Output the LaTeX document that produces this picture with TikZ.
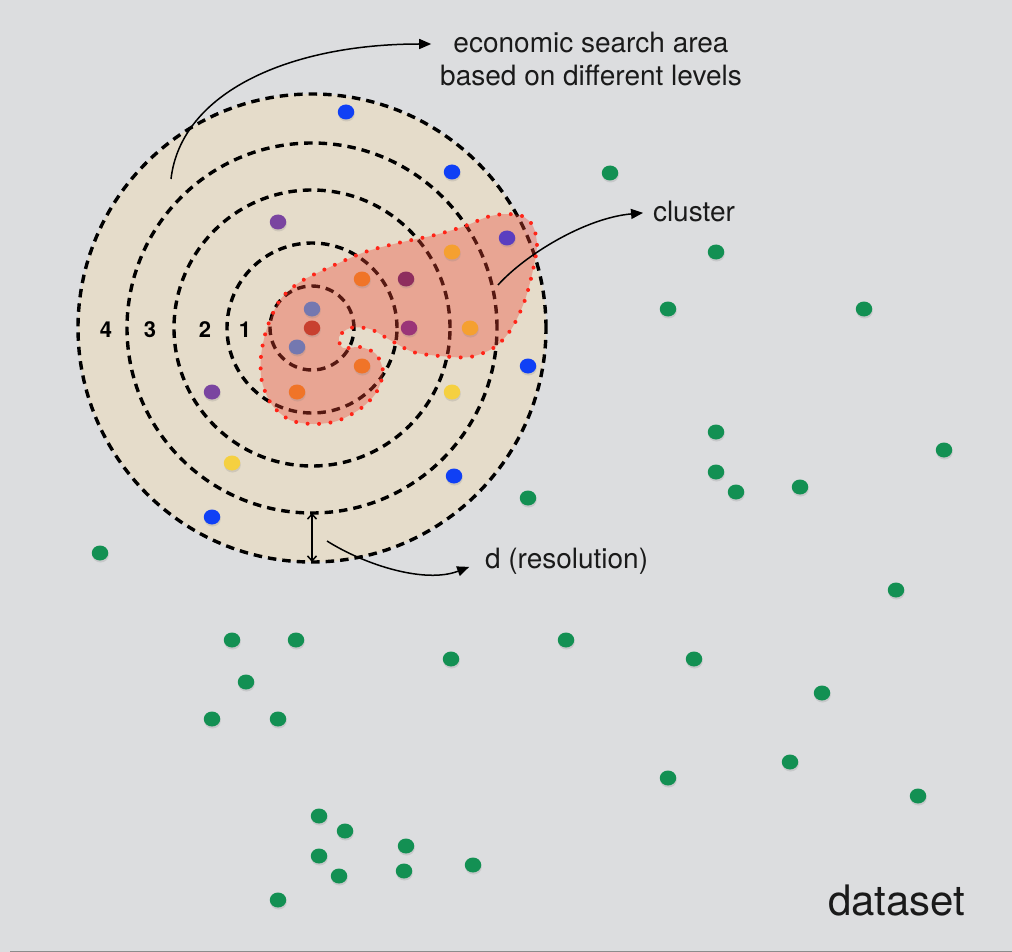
\documentclass[tikz,border=0pt]{standalone}
\usepackage{fontspec}
\setmainfont{TeX Gyre Heros}
\usepackage{xcolor}
\usepackage{tikz}
\usetikzlibrary{arrows.meta,shapes.geometric,shadows}

\definecolor{bgcol}{HTML}{DCDDDF}
\definecolor{sand}{HTML}{E5DCCA}
\definecolor{clred}{HTML}{F04632}
\definecolor{dotline}{HTML}{FF2418}
\definecolor{cblue}{HTML}{1040F5}
\definecolor{cpurple}{HTML}{7A45A0}
\definecolor{cviolet}{HTML}{5A3EC0}
\definecolor{clorange}{HTML}{F5A030}
\definecolor{corange}{HTML}{F07428}
\definecolor{cmaroon}{HTML}{8E2E5E}
\definecolor{cmagenta}{HTML}{9A3478}
\definecolor{cslate}{HTML}{7478B0}
\definecolor{cred}{HTML}{C8402F}
\definecolor{cyellow}{HTML}{F5D040}
\definecolor{cgreen}{HTML}{139053}
\definecolor{ink}{HTML}{1A1A1A}

\begin{document}
\begin{tikzpicture}[x=1pt,y=-1pt,
  ring/.style={circle, draw=black, line width=3.4pt, dash pattern=on 8.5pt off 6pt, inner sep=0pt, outer sep=0pt},
  datapt/.style={ellipse, minimum width=16.5pt, minimum height=15pt, inner sep=0pt,
    drop shadow={shadow xshift=0.5pt, shadow yshift=-2pt, opacity=0.22}},
  note/.style={font=\fontsize{28}{33}\selectfont, text=ink, inner sep=0pt, outer sep=0pt},
  levelnum/.style={font=\fontsize{22}{24}\selectfont\bfseries, inner sep=0pt},
  curved/.style={line width=1.5pt, -{Triangle[length=12pt,width=10pt]}}]
\fill[bgcol] (0,0) rectangle (1012,952);
\fill[black!45] (10,950.5) rectangle (1012,952);
\useasboundingbox (0,0) rectangle (1012,952);

% search levels
\node[ring, fill=sand, minimum size=468pt] (ring4) at (312,328) {};
\node[ring, minimum size=370pt] (ring3) at (312,328) {};
\node[ring, minimum size=276pt] (ring2) at (312,328) {};
\node[ring, minimum size=170pt] (ring1) at (312,328) {};
\node[ring, minimum size=84pt] (core) at (312,328) {};

% cluster
\path[fill=clred, fill opacity=0.36, draw=dotline, line width=4pt, line cap=round,
  dash pattern=on 0pt off 11.5pt]
  plot[smooth cycle] coordinates {(505,214) (522,216) (533,226) (537,245) (533,270)
  (525,300) (512,328) (495,347) (470,357) (440,356) (413,352) (390,340) (370,329)
  (350,328) (339,337) (343,348) (360,347) (376,354) (383,372) (376,393) (360,409)
  (337,421) (313,424) (290,420) (272,405) (262,382) (261,356) (267,328) (280,300)
  (300,282) (330,267) (365,252) (398,243) (435,235) (465,226) (487,217)};

\node[levelnum] (l4) at (106,330) {4};
\node[levelnum] (l3) at (150,330) {3};
\node[levelnum] (l2) at (205,330) {2};
\node[levelnum] (l1) at (245,330) {1};

% points in the search area
\node[datapt, fill=cblue] (b1) at (346,112) {};
\node[datapt, fill=cblue] (b2) at (452,172) {};
\node[datapt, fill=cblue] (b3) at (528,366) {};
\node[datapt, fill=cblue] (b4) at (454,476) {};
\node[datapt, fill=cblue] (b5) at (212,517) {};
\node[datapt, fill=cpurple] (p1) at (278,222) {};
\node[datapt, fill=cpurple] (p2) at (212,392) {};
\node[datapt, fill=cviolet] (v1) at (507,238) {};
\node[datapt, fill=clorange] (lo1) at (452,252) {};
\node[datapt, fill=clorange] (lo2) at (470,328) {};
\node[datapt, fill=corange] (o1) at (362,279) {};
\node[datapt, fill=corange] (o2) at (362,366) {};
\node[datapt, fill=corange] (o3) at (297,392) {};
\node[datapt, fill=cmaroon] (m1) at (406,279) {};
\node[datapt, fill=cmagenta] (m2) at (409,328) {};
\node[datapt, fill=cslate] (s1) at (312,309) {};
\node[datapt, fill=cred] (r1) at (312,328) {};
\node[datapt, fill=cslate] (s2) at (297,347) {};
\node[datapt, fill=cyellow] (y1) at (452,392) {};
\node[datapt, fill=cyellow] (y2) at (232,463) {};

% rest of the dataset
\node[datapt, fill=cgreen] (g1) at (610,173) {};
\node[datapt, fill=cgreen] (g2) at (716,252) {};
\node[datapt, fill=cgreen] (g3) at (668,309) {};
\node[datapt, fill=cgreen] (g4) at (864,309) {};
\node[datapt, fill=cgreen] (g5) at (716,432) {};
\node[datapt, fill=cgreen] (g6) at (944,450) {};
\node[datapt, fill=cgreen] (g7) at (716,472) {};
\node[datapt, fill=cgreen] (g8) at (736,492) {};
\node[datapt, fill=cgreen] (g9) at (800,487) {};
\node[datapt, fill=cgreen] (g10) at (528,498) {};
\node[datapt, fill=cgreen] (g11) at (100,553) {};
\node[datapt, fill=cgreen] (g12) at (896,590) {};
\node[datapt, fill=cgreen] (g13) at (232,640) {};
\node[datapt, fill=cgreen] (g14) at (296,640) {};
\node[datapt, fill=cgreen] (g15) at (566,640) {};
\node[datapt, fill=cgreen] (g16) at (451,659) {};
\node[datapt, fill=cgreen] (g17) at (694,659) {};
\node[datapt, fill=cgreen] (g18) at (246,682) {};
\node[datapt, fill=cgreen] (g19) at (822,693) {};
\node[datapt, fill=cgreen] (g20) at (212,719) {};
\node[datapt, fill=cgreen] (g21) at (278,719) {};
\node[datapt, fill=cgreen] (g22) at (790,762) {};
\node[datapt, fill=cgreen] (g23) at (668,778) {};
\node[datapt, fill=cgreen] (g24) at (918,796) {};
\node[datapt, fill=cgreen] (g25) at (319,816) {};
\node[datapt, fill=cgreen] (g26) at (345,831) {};
\node[datapt, fill=cgreen] (g27) at (406,846) {};
\node[datapt, fill=cgreen] (g28) at (319,856) {};
\node[datapt, fill=cgreen] (g29) at (473,865) {};
\node[datapt, fill=cgreen] (g30) at (404,871) {};
\node[datapt, fill=cgreen] (g31) at (339,876) {};
\node[datapt, fill=cgreen] (g32) at (278,900) {};

% labels and arrows
\node[note, align=center] (econ) at (591,59) {economic search area\\based on different levels};
\node[note, anchor=base west] (clust) at (653,222) {cluster};
\node[note, anchor=base west] (reso) at (485,568) {d (resolution)};
\node[note, font=\fontsize{42}{48}\selectfont, anchor=base west] (dataset) at (828,915) {dataset};

\coordinate (econ-from) at (171,179);
\coordinate (econ-tip) at ([xshift=-9pt,yshift=15pt]econ.west);
\coordinate (clust-from) at (498,285);
\coordinate (reso-from) at (327,541);

\draw[curved] (econ-from) .. controls (181,92) and (290,44) .. (econ-tip);
\draw[curved, shorten >=10pt] (clust-from) .. controls (525,255) and (585,218) .. (clust.west);
\draw[curved, shorten >=17pt] (reso-from) .. controls (365,565) and (425,584) .. (reso.west);
\draw[line width=1.5pt, {Straight Barb[length=5pt,width=9pt]}-{Straight Barb[length=5pt,width=9pt]}]
  (ring3.south) -- (ring4.south);
\end{tikzpicture}
\end{document}
